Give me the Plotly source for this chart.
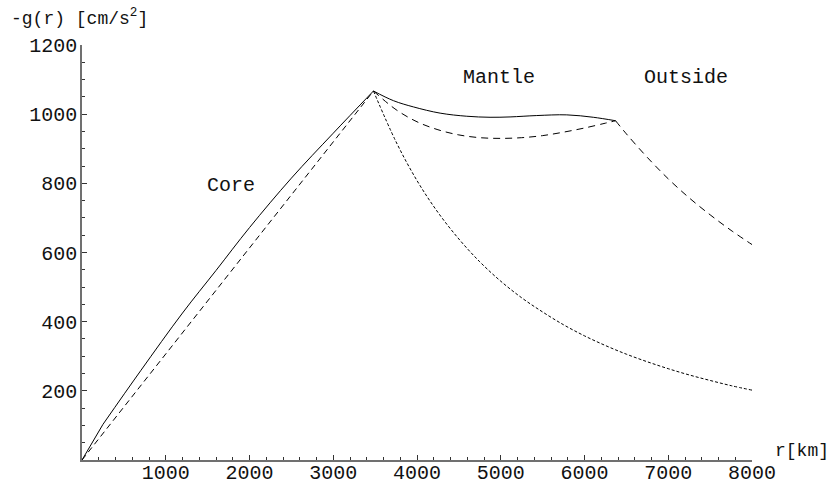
import plotly.graph_objects as go

# Real gravity profile (solid)
r_inner_real = [0, 250]
g_inner_real = [0, 103]
r_core_real = [250, 700, 1200, 1600, 2000, 2500, 3000, 3480]
g_core_real = [103, 258, 425, 548, 672, 815, 945, 1067]
r_mantle_real = [3480, 3719, 3957, 4276, 4594, 4872, 5111, 5430, 5788, 6105, 6371]
g_mantle_real = [1067, 1039, 1021, 1003, 994, 991, 992, 996, 998, 991, 981]

# Uniform-density model (dashed)
r_core_unif = [0, 3480]
g_core_unif = [0, 1067]
r_mantle_unif = [3480, 3750, 4000, 4250, 4500, 4750, 5000, 5250, 5500, 5750, 6000, 6250, 6371]
g_mantle_unif = [1067, 1013, 978, 955, 940, 932, 930, 932, 938, 948, 960, 974, 981]
r_out = [6371, 6500, 6750, 7000, 7250, 7500, 7750, 8000]
g_out = [981, 943, 875, 813, 758, 709, 664, 623]

# Point-mass core (dotted)
r_pm = [3480, 3750, 4000, 4250, 4500, 4750, 5000, 5250, 5500, 5750, 6000, 6250, 6500, 6750, 7000, 7250, 7500, 7750, 8000]
g_pm = [1067, 920, 808, 716, 639, 573, 517, 469, 428, 391, 359, 331, 306, 284, 264, 246, 230, 215, 202]

x_ticks = [1000, 2000, 3000, 4000, 5000, 6000, 7000, 8000]
y_ticks = [200, 400, 600, 800, 1000, 1200]

FONT = "Liberation Mono"
fig = go.Figure()

def add(x, y, dash, shape="linear"):
    fig.add_trace(go.Scatter(x=x, y=y, mode="lines", line=dict(color="black", width=1, dash=dash, shape=shape),
                             showlegend=False, hoverinfo="skip", cliponaxis=False))

add(r_inner_real, g_inner_real, "solid")
add(r_core_real, g_core_real, "solid", "spline")
add(r_mantle_real, g_mantle_real, "solid", "spline")
add(r_core_unif, g_core_unif, "6px,4px")
add(r_mantle_unif, g_mantle_unif, "7px,5px", "spline")
add(r_out, g_out, "7px,5px", "spline")
add(r_pm, g_pm, "3px,2px", "spline")

axis_common = dict(showgrid=False, zeroline=False, showline=True, linecolor="#707070", linewidth=1.5,
                   ticks="inside", tickcolor="#333333", ticklen=5, tickwidth=1, automargin=False,
                   tickfont=dict(family=FONT, size=20, color="#111111"))

fig.update_xaxes(range=[0, 8000], tickvals=x_ticks, ticktext=[str(v) for v in x_ticks],
                 minor=dict(dtick=200, ticks="inside", ticklen=3, tickcolor="#333333", tickwidth=1),
                 ticklabelstandoff=-7, **axis_common)
fig.update_yaxes(range=[0, 1200], tickvals=y_ticks, ticktext=[str(v) for v in y_ticks],
                 minor=dict(dtick=50, ticks="inside", ticklen=3, tickcolor="#333333", tickwidth=1),
                 ticklabelstandoff=-1, **axis_common)

W, H = 832, 486
ml, mr, mt, mb = 82, 80, 45, 26

ann_font = dict(family=FONT, size=20, color="#111111")
lab_font = dict(family=FONT, size=18, color="#111111")
annotations = [
    dict(text="Core", x=1785, y=795, xref="x", yref="y", showarrow=False, font=ann_font),
    dict(text="Mantle", x=4980, y=1105, xref="x", yref="y", showarrow=False, font=ann_font),
    dict(text="Outside", x=7212, y=1105, xref="x", yref="y", showarrow=False, font=ann_font),
]
# axis labels placed by pixel position
for text, px, py in [("r[km]", 773, 451), ("-g(r) [cm/s<sup>2</sup>]", 9, 18)]:
    annotations.append(dict(text=text, xref="paper", yref="paper", showarrow=False, font=lab_font,
                            x=(px - ml) / (W - ml - mr), y=(H - mb - py) / (H - mt - mb),
                            xanchor="left", yanchor="middle"))

fig.update_layout(width=W, height=H, margin=dict(l=ml, r=mr, t=mt, b=mb, autoexpand=False),
                  plot_bgcolor="white", paper_bgcolor="white", annotations=annotations)

fig.write_html("out.html", config={"displayModeBar": False},
               post_script="document.body.style.margin='0';document.body.style.overflow='hidden';")
